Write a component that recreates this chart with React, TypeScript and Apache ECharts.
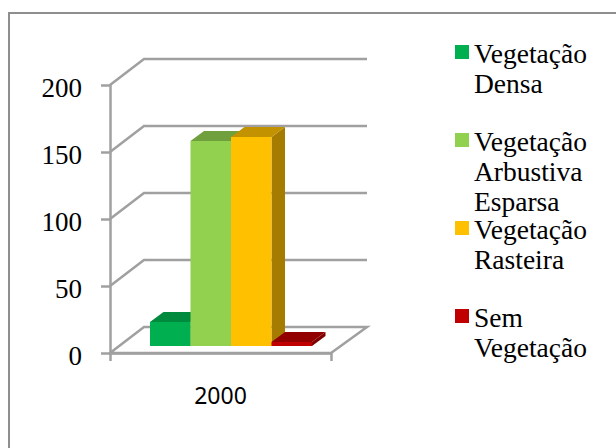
import React, { useEffect, useRef } from "react";
import * as echarts from "echarts";

const categories = ["2000"];
const seriesNames = ["Vegetação Densa", "Vegetação Arbustiva Esparsa", "Vegetação Rasteira", "Sem Vegetação"];
const legendLabels = ["Vegetação\nDensa", "Vegetação\nArbustiva\nEsparsa", "Vegetação\nRasteira", "Sem\nVegetação"];
const seriesValues = [18, 153, 156, 3];
const yTicks = [0, 50, 100, 150, 200];
const frontColors = ["#00B050", "#92D050", "#FFC000", "#C00000"];
const topColors = ["#008A3E", "#70A03E", "#C29200", "#920000"];
const sideColors = ["#007A37", "#628C36", "#A67C00", "#800000"];
const legendTops = [45, 133, 221, 309];

const GRID = { left: 110, top: 85, width: 221, height: 268 };
const WALL_DX = 34;
const WALL_DY = -26;
const LINE_COLOR = "#A0A0A0";
const LINE_W = 2.5;
const BAR_LEFT = 40;
const BAR_W = 40.5;
const BAR_LIFT = 7;
const BAR_DX = 13.5;
const BAR_DY = -10;

const wallSeries = {
  type: "custom",
  silent: true,
  z: 1,
  data: yTicks.map((t) => [0, t]),
  renderItem: (params: any, api: any) => {
    const y = api.coord([0, api.value(1)])[1];
    const cs = params.coordSys;
    const x0 = cs.x;
    const x1 = cs.x + WALL_DX;
    const x2 = x1 + cs.width + 2;
    const points: number[][] = [[x0, y], [x1, y + WALL_DY], [x2, y + WALL_DY]];
    if (api.value(1) === 0) {
      points.push([cs.x + cs.width, y], [x0, y]);
    }
    return {
      type: "polyline",
      shape: { points },
      style: { stroke: LINE_COLOR, lineWidth: LINE_W, fill: "none" },
    };
  },
};

const barSeries = seriesNames.map((name, i) => ({
  type: "custom",
  name,
  silent: true,
  z: 2 + i,
  itemStyle: { color: frontColors[i] },
  encode: { x: 0, y: 1 },
  data: [[categories[0], seriesValues[i]]],
  renderItem: (params: any, api: any) => {
    const base = api.coord([0, 0])[1] - BAR_LIFT;
    const top = api.coord([0, api.value(1)])[1] - BAR_LIFT;
    const l = params.coordSys.x + BAR_LEFT + i * BAR_W;
    const r = l + BAR_W;
    const poly = (points: number[][], fill: string) => ({
      type: "polygon",
      shape: { points },
      style: { fill, stroke: "none" },
    });
    return {
      type: "group",
      children: [
        poly([[r, base], [r + BAR_DX, base + BAR_DY], [r + BAR_DX, top + BAR_DY], [r, top]], sideColors[i]),
        poly([[l, top], [l + BAR_DX, top + BAR_DY], [r + BAR_DX, top + BAR_DY], [r, top]], topColors[i]),
        poly([[l, top], [r, top], [r, base], [l, base]], frontColors[i]),
      ],
    };
  },
}));

const legends = seriesNames.map((name, i) => {
  const lines = legendLabels[i].split("\n").length;
  const h = lines * 30;
  return {
    data: [name],
    left: 455,
    top: legendTops[i] - 7,
    padding: 0,
    itemWidth: 14,
    itemHeight: h,
    itemGap: 0,
    selectedMode: false,
    icon: `path://M0 7H14V21H0Z M0 0L0 0Z M14 ${h}L14 ${h}Z`,
    formatter: () => legendLabels[i],
    textStyle: {
      fontFamily: "Liberation Serif",
      fontSize: 27.5,
      lineHeight: 30,
      color: "#000",
    },
  };
});

const option: any = {
  animation: false,
  backgroundColor: "#fff",
  grid: GRID,
  legend: legends,
  xAxis: {
    type: "category",
    data: categories,
    axisLine: { lineStyle: { color: LINE_COLOR, width: LINE_W } },
    axisTick: { show: true, length: 8, lineStyle: { color: LINE_COLOR, width: LINE_W } },
    axisLabel: { fontFamily: "Noto Sans", fontSize: 23, color: "#000", margin: 30 },
  },
  yAxis: {
    type: "value",
    min: 0,
    max: 200,
    interval: 50,
    splitLine: { show: false },
    axisLine: { show: true, lineStyle: { color: LINE_COLOR, width: LINE_W } },
    axisTick: { show: true, length: 9, lineStyle: { color: LINE_COLOR, width: LINE_W } },
    axisLabel: {
      color: "#000",
      margin: 28,
      formatter: "{v|{value}}",
      rich: {
        v: { fontFamily: "Liberation Serif", fontSize: 27, color: "#000", padding: [5, 0, 0, 0] },
      },
    },
  },
  graphic: [
    {
      type: "polyline",
      silent: true,
      z: -1,
      shape: { points: [[9, 448], [9, 13], [616, 13]] },
      style: { stroke: "#8E8E8E", lineWidth: 2, fill: "none" },
    },
  ],
  series: [wallSeries, ...barSeries],
};

export default function App() {
  const ref = useRef<HTMLDivElement>(null);
  useEffect(() => {
    const chart = echarts.init(ref.current!, undefined, { renderer: "svg" });
    chart.setOption(option);
    return () => chart.dispose();
  }, []);
  return <div ref={ref} style={{ position: "fixed", left: 0, top: 0, width: 616, height: 448 }} />;
}
